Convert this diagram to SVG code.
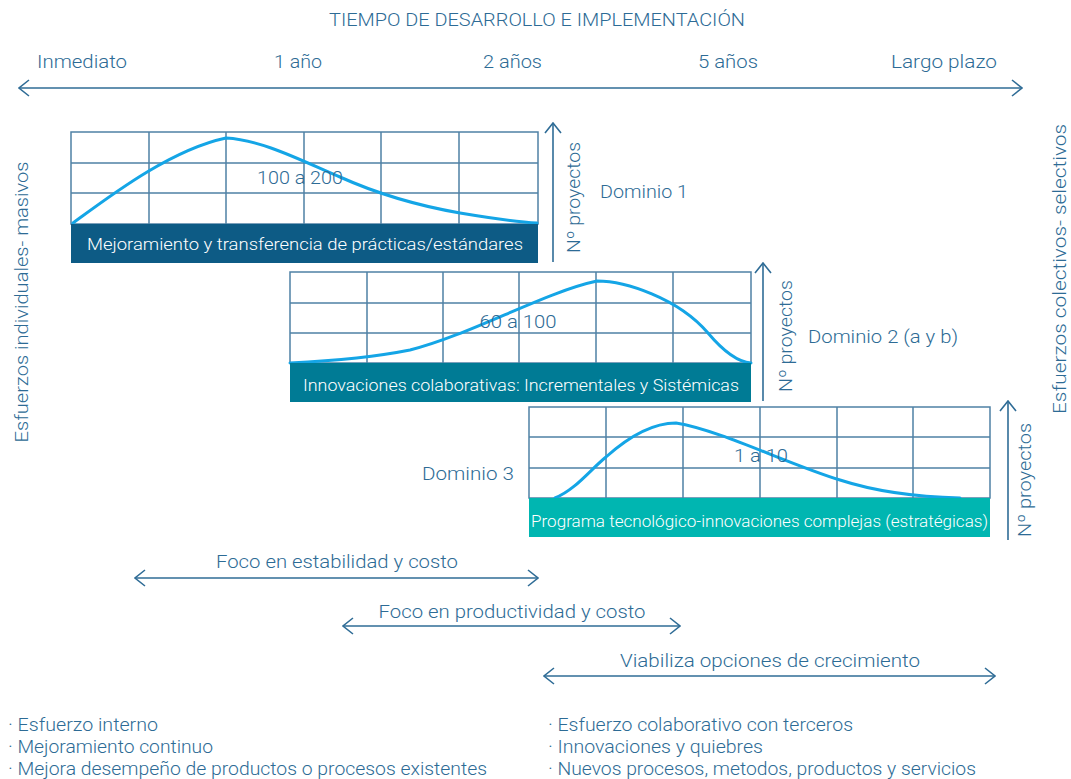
<svg xmlns="http://www.w3.org/2000/svg" width="1071" height="779" viewBox="0 0 1071 779">
<style>
  text { font-family: Roboto, "Open Sans", "Liberation Sans", sans-serif; font-weight: 300; fill: #2d6b95; }
  .t17 { font-size: 17px; }
  .t18 { font-size: 18px; }
  .ban { font-size: 17px; fill: #ffffff; }
  .grid { fill: #ffffff; stroke: #4f81a5; stroke-width: 1.5; }
  .gl { stroke: #4f81a5; stroke-width: 1.5; fill: none; }
  .curve { fill: none; stroke: #14a5e6; stroke-width: 3; stroke-linecap: round; }
  .arr { fill: none; stroke: #2f6c96; stroke-width: 1.6; }
  .v { font-size: 18px; }
</style>
<defs>
  <marker id="chev" viewBox="0 -9 12 18" refX="11" refY="0" markerWidth="12" markerHeight="18" markerUnits="userSpaceOnUse" orient="auto-start-reverse">
    <path d="M1,-8 L11,0 L1,8" fill="none" stroke="#2f6c96" stroke-width="1.6"/>
  </marker>
</defs>
<rect width="1071" height="779" fill="#ffffff"/>

<g id="header">
  <text class="t18" x="537" y="26" text-anchor="middle" textLength="416" lengthAdjust="spacingAndGlyphs">TIEMPO DE DESARROLLO E IMPLEMENTACIÓN</text>
  <text class="t18" x="37" y="68" textLength="90" lengthAdjust="spacingAndGlyphs">Inmediato</text>
  <text class="t18" x="274" y="68" textLength="48" lengthAdjust="spacingAndGlyphs">1 año</text>
  <text class="t18" x="483" y="68" textLength="59" lengthAdjust="spacingAndGlyphs">2 años</text>
  <text class="t18" x="698" y="68" textLength="60" lengthAdjust="spacingAndGlyphs">5 años</text>
  <text class="t18" x="891" y="68" textLength="106" lengthAdjust="spacingAndGlyphs">Largo plazo</text>
</g>

<g id="side-labels">
  <text class="v" transform="translate(28,302) rotate(-90)" text-anchor="middle" textLength="281" lengthAdjust="spacingAndGlyphs">Esfuerzos individuales- masivos</text>
  <text class="v" transform="translate(1066,269) rotate(-90)" text-anchor="middle" textLength="290" lengthAdjust="spacingAndGlyphs">Esfuerzos colectivos- selectivos</text>
</g>

<g id="domain1">
  <rect class="grid" x="71" y="132" width="467" height="92"/>
  <path class="gl" d="M71,163H538M71,193H538M149,132V224M226,132V224M304,132V224M381,132V224M459,132V224"/>
  <path class="curve" d="M73,223 C110,196 170,150 226,138 C262,140 300,160 340,177 C380,195 420,206 460,213 C490,218 515,222 537,223"/>
  <text class="t18" x="300" y="184" text-anchor="middle" textLength="86" lengthAdjust="spacingAndGlyphs">100 a 200</text>
  <rect x="71" y="224" width="467" height="39" fill="#0d5b85"/>
  <text class="ban" x="87" y="250" textLength="436" lengthAdjust="spacingAndGlyphs">Mejoramiento y transferencia de prácticas/estándares</text>
  <text class="v" transform="translate(580,197.5) rotate(-90)" text-anchor="middle" textLength="111" lengthAdjust="spacingAndGlyphs">Nº proyectos</text>
  <text class="t18" x="600" y="198" textLength="88" lengthAdjust="spacingAndGlyphs">Dominio 1</text>
</g>

<g id="domain2">
  <rect class="grid" x="290" y="272" width="461" height="91"/>
  <path class="gl" d="M290,303H751M290,333H751M367,272V363M443,272V363M519,272V363M596,272V363M673,272V363"/>
  <path class="curve" d="M290,363 C330,361 370,358 410,350 C470,335 545,292 597,281 C625,281 678,298 708,333 C724,352 738,362 751,363"/>
  <text class="t18" x="518" y="328" text-anchor="middle" textLength="77" lengthAdjust="spacingAndGlyphs">60 a 100</text>
  <rect x="290" y="363" width="461" height="39" fill="#007b95"/>
  <text class="ban" x="303" y="391" textLength="436" lengthAdjust="spacingAndGlyphs">Innovaciones colaborativas: Incrementales y Sistémicas</text>
  <text class="v" transform="translate(792,336) rotate(-90)" text-anchor="middle" textLength="112" lengthAdjust="spacingAndGlyphs">Nº proyectos</text>
  <text class="t18" x="808" y="343" textLength="150" lengthAdjust="spacingAndGlyphs">Dominio 2 (a y b)</text>
</g>

<g id="domain3">
  <rect class="grid" x="529" y="407" width="461" height="91"/>
  <path class="gl" d="M529,437H990M529,468H990M606,407V498M683,407V498M760,407V498M837,407V498M913,407V498"/>
  <path class="curve" d="M555,498 C575,490 590,470 606,457 C625,440 650,423 676,423 C720,430 790,465 840,480 C880,493 920,497 960,498"/>
  <text class="t18" x="761" y="462" text-anchor="middle" textLength="54" lengthAdjust="spacingAndGlyphs">1 a 10</text>
  <rect x="529" y="498" width="461" height="39" fill="#00b6b1"/>
  <text class="ban" x="531" y="527" textLength="457" lengthAdjust="spacingAndGlyphs">Programa tecnológico-innovaciones complejas (estratégicas)</text>
  <text class="v" transform="translate(1031,480) rotate(-90)" text-anchor="middle" textLength="114" lengthAdjust="spacingAndGlyphs">Nº proyectos</text>
  <text class="t18" x="422" y="480" textLength="92" lengthAdjust="spacingAndGlyphs">Dominio 3</text>
</g>

<g id="focus-labels">
  <text class="t18" x="337" y="568" text-anchor="middle" textLength="242" lengthAdjust="spacingAndGlyphs">Foco en estabilidad y costo</text>
  <text class="t18" x="512" y="618" text-anchor="middle" textLength="267" lengthAdjust="spacingAndGlyphs">Foco en productividad y costo</text>
  <text class="t18" x="770" y="667" text-anchor="middle" textLength="300" lengthAdjust="spacingAndGlyphs">Viabiliza opciones de crecimiento</text>
</g>

<g id="notes">
  <text class="t18" x="8" y="731" textLength="150" lengthAdjust="spacingAndGlyphs">· Esfuerzo interno</text>
  <text class="t18" x="8" y="753" textLength="205" lengthAdjust="spacingAndGlyphs">· Mejoramiento continuo</text>
  <text class="t18" x="8" y="775" textLength="479" lengthAdjust="spacingAndGlyphs">· Mejora desempeño de productos o procesos existentes</text>
  <text class="t18" x="548" y="731" textLength="305" lengthAdjust="spacingAndGlyphs">· Esfuerzo colaborativo con terceros</text>
  <text class="t18" x="548" y="753" textLength="215" lengthAdjust="spacingAndGlyphs">· Innovaciones y quiebres</text>
  <text class="t18" x="548" y="775" textLength="428" lengthAdjust="spacingAndGlyphs">· Nuevos procesos, metodos, productos y servicios</text>
</g>

<g id="connectors">
  <line class="arr" x1="19" y1="88" x2="1022" y2="88" marker-start="url(#chev)" marker-end="url(#chev)"/>
  <line class="arr" x1="553" y1="262" x2="553" y2="123" marker-end="url(#chev)"/>
  <line class="arr" x1="763" y1="401" x2="763" y2="263" marker-end="url(#chev)"/>
  <line class="arr" x1="1008" y1="540" x2="1008" y2="401" marker-end="url(#chev)"/>
  <line class="arr" x1="135" y1="578" x2="538" y2="578" marker-start="url(#chev)" marker-end="url(#chev)"/>
  <line class="arr" x1="343" y1="626" x2="680" y2="626" marker-start="url(#chev)" marker-end="url(#chev)"/>
  <line class="arr" x1="544" y1="676" x2="995" y2="676" marker-start="url(#chev)" marker-end="url(#chev)"/>
</g>
</svg>
